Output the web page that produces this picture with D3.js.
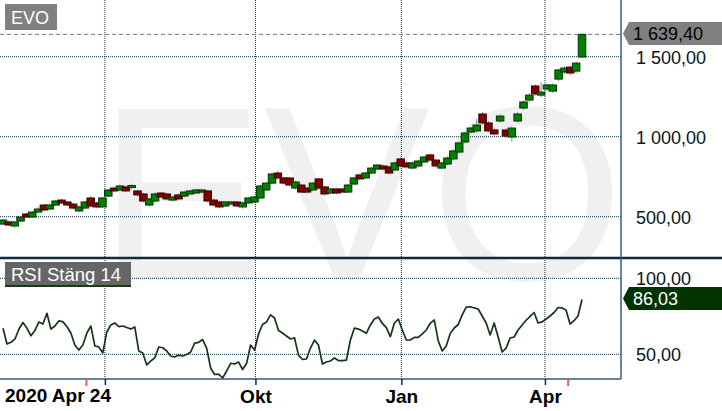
<!DOCTYPE html>
<html lang="sv">
<head>
    <meta charset="UTF-8">
    <title>EVO - kurs och RSI</title>
    <script src="https://d3js.org/d3.v7.min.js"></script>
    <style>
        body { margin: 0; background: #fff; }
        svg { display: block; font-family: "Liberation Sans", Arial, sans-serif; }
    </style>
</head>
<body>
    <svg width="722" height="411"></svg>

    <script>
        // Daily candles sampled about every 2.5 trading days, Apr 2020 - Apr 2021
        const opens = [454,467,442,473,517,498,529,573,548,573,
            604,592,579,536,554,617,586,561,629,679,
            667,686,682,661,642,573,598,648,642,604,
            636,629,642,648,654,661,604,592,567,579,
            592,561,586,592,617,667,710,773,742,742,
            679,698,679,667,736,686,648,673,673,654,
            704,761,742,773,798,817,811,792,861,836,
            804,817,842,886,854,804,829,861,904,967,
            1029,1036,1142,1086,1042,1098,1042,998,1098,1179,
            1229,1317,1260,1298,1285,1360,1404,1435,1410,1498];
        const closes = [479,448,467,498,498,529,548,542,573,598,
            586,573,554,561,592,567,561,617,667,661,
            692,661,695,636,598,611,642,623,611,623,
            611,654,661,667,667,598,573,561,592,592,
            567,586,617,623,692,710,767,742,710,698,
            717,654,654,710,679,642,673,648,654,698,
            742,736,773,804,823,798,773,836,817,811,
            836,848,873,854,817,836,867,911,961,1023,
            1054,1073,1086,1036,1017,1129,1004,1054,1142,1217,
            1260,1267,1279,1323,1323,1417,1429,1398,1460,1639.4];
        const highs = [486,478,472,506,524,536,560,580,581,606,
            612,598,588,570,600,630,594,624,674,688,
            700,694,706,668,650,618,652,655,650,632,
            644,662,668,676,675,668,612,600,600,600,
            600,596,625,632,700,718,775,786,750,750,
            725,706,688,718,745,694,680,682,681,706,
            750,770,781,812,832,826,820,845,870,845,
            845,856,882,895,862,844,878,920,970,1032,
            1063,1110,1155,1098,1052,1140,1055,1066,1155,1228,
            1272,1328,1340,1334,1334,1428,1442,1445,1470,1645];
        const lows = [448,440,430,466,492,492,520,535,540,566,
            578,566,545,528,546,558,552,554,620,652,
            660,654,674,628,590,564,590,615,602,596,
            603,620,634,640,646,590,565,552,560,571,
            558,550,578,584,610,660,702,734,700,690,
            670,646,645,659,670,632,640,640,646,646,
            696,728,734,765,790,790,765,784,808,800,
            795,808,834,845,806,796,820,852,896,958,
            1020,1026,1075,1026,1007,1088,992,970,1088,1168,
            1218,1256,1248,1288,1274,1348,1392,1386,1398,1490];

        // RSI (close, 14), evenly sampled over the same period
        const rsi = [67.1,56.8,57.9,60.1,66.6,70.9,67.1,62.2,65.7,71.3,
            69.9,77.0,66.6,68.6,72.1,71.3,68.3,64.0,56.1,52.8,
            56.1,64.0,68.6,55.5,54.8,50.9,64.7,69.3,70.6,68.2,
            68.6,67.6,66.6,68.0,52.2,50.9,43.0,45.6,47.6,54.8,
            54.3,52.2,48.9,48.2,49.5,48.9,49.9,51.5,57.4,57.9,
            59.7,54.1,41.0,36.7,37.0,34.4,39.0,44.1,43.6,44.9,
            40.0,43.9,56.1,52.8,63.4,69.6,71.3,75.9,73.9,65.7,
            64.0,62.0,60.1,60.9,49.5,46.6,46.9,54.1,59.4,56.1,
            43.6,44.9,45.6,47.6,45.9,45.9,46.2,59.4,67.3,66.6,
            65.3,63.8,69.3,73.2,74.5,70.3,67.5,61.6,70.4,73.2,
            66.0,59.4,59.4,61.1,61.1,63.4,66.0,70.4,72.6,58.8,
            52.2,55.5,63.7,67.3,69.6,75.9,81.1,81.3,80.5,79.8,
            75.2,70.6,62.7,70.6,61.4,51.5,54.1,60.7,61.4,66.0,
            69.3,72.4,74.9,77.5,70.6,71.3,73.2,75.2,77.5,80.8,
            80.5,79.1,69.9,72.1,75.2,86.03];

        // Time axis in trading days from the first date
        const tradingDays = 250;
        const tickDays = [44, 109, 172, 234];
        const tickLabels = ["", "Okt", "Jan", "Apr"];
        const startLabel = "2020 Apr 24";
        const markerDays = [36, 244];
        const priceTicks = [500, 1000, 1500];
        const rsiTicks = [50, 100];

        const width = 722, height = 411;
        const plotRight = 621, priceBottom = 258, rsiBottom = 379;
        const gridColor = "#08304c";

        const svg = d3.select("svg");
        const sv = d3.formatLocale({decimal: ",", thousands: "\u00a0", grouping: [3]});
        const fmt = sv.format(",.2f");

        const x = d3.scaleLinear().domain([0, tradingDays]).range([3, 582]);
        const yP = d3.scaleLinear().domain([500, 1500]).range([216.7, 56.7]);
        const yR = d3.scaleLinear().domain([50, 100]).range([354.3, 278.3]);

        // big watermark behind everything
        svg.append("text")
            .attr("x", 98).attr("y", 280)
            .attr("font-size", 249)
            .attr("fill", "#f0f0f0")
            .text("EVO");

        // grid: vertical dotted lines at the date ticks
        svg.append("g").selectAll("line")
            .data(tickDays).enter().append("line")
            .attr("x1", d => x(d)).attr("x2", d => x(d))
            .attr("y1", 0).attr("y2", rsiBottom)
            .attr("stroke", gridColor).attr("stroke-dasharray", "1,1");

        // horizontal grid in both panels
        svg.append("g").selectAll("line")
            .data(priceTicks.map(yP).concat(rsiTicks.map(yR)))
            .enter().append("line")
            .attr("x1", 0).attr("x2", plotRight)
            .attr("y1", d => d).attr("y2", d => d)
            .attr("stroke", gridColor).attr("stroke-dasharray", "1,1");

        const last = closes[closes.length - 1];
        const lastRsi = rsi[rsi.length - 1];

        // dashed line at last price
        svg.append("line")
            .attr("x1", 0).attr("x2", plotRight)
            .attr("y1", yP(last)).attr("y2", yP(last))
            .attr("stroke", "#7a7a7a").attr("stroke-dasharray", "4,3");

        // candles
        const candles = opens.map((o, i) => ({
            day: i * tradingDays / (opens.length - 1),
            o: o, c: closes[i], h: highs[i], l: lows[i]
        }));
        const cw = 7.5;
        const cg = svg.append("g");
        candles.forEach(d => {
            const up = d.c >= d.o;
            const fill = up ? "#008000" : "#800000";
            cg.append("line")
                .attr("x1", x(d.day)).attr("x2", x(d.day))
                .attr("y1", yP(d.h)).attr("y2", yP(d.l))
                .attr("stroke", "#8a8a8a");
            cg.append("rect")
                .attr("x", x(d.day) - cw / 2)
                .attr("y", yP(Math.max(d.o, d.c)))
                .attr("width", cw)
                .attr("height", Math.max(1, Math.abs(yP(d.o) - yP(d.c))))
                .attr("fill", fill)
                .attr("stroke", up ? "#003300" : "#3a0000");
        });

        // RSI line
        const rsiLine = d3.line()
            .x((d, i) => x(i * tradingDays / (rsi.length - 1)))
            .y(d => yR(d));
        svg.append("path")
            .datum(rsi)
            .attr("d", rsiLine)
            .attr("fill", "none")
            .attr("stroke", "#163516")
            .attr("stroke-width", 1.7)
            .attr("stroke-linejoin", "round");

        // frame
        svg.append("line")
            .attr("x1", 0).attr("x2", width)
            .attr("y1", priceBottom).attr("y2", priceBottom)
            .attr("stroke", "#0d2b3e").attr("stroke-width", 2.5);
        svg.append("line")
            .attr("x1", plotRight).attr("x2", plotRight)
            .attr("y1", 0).attr("y2", rsiBottom)
            .attr("stroke", "#3c5a78").attr("stroke-width", 1.5);
        svg.append("line")
            .attr("x1", 0).attr("x2", plotRight)
            .attr("y1", rsiBottom).attr("y2", rsiBottom)
            .attr("stroke", "#3c5a78").attr("stroke-width", 1.5);

        // price and RSI axes on the right
        [[yP, priceTicks], [yR, rsiTicks]].forEach(([s, t]) => {
            const g = svg.append("g")
                .attr("transform", `translate(${plotRight},0)`)
                .call(d3.axisRight(s).tickValues(t).tickFormat(fmt).tickSize(0).tickPadding(15));
            g.select(".domain").remove();
            g.selectAll("text")
                .attr("font-family", "Liberation Sans, Arial, sans-serif")
                .attr("font-size", 18)
                .attr("fill", "#0a1420")
                .attr("dy", "0.36em");
        });

        // time axis
        const xa = svg.append("g")
            .attr("transform", `translate(0,${rsiBottom})`)
            .call(d3.axisBottom(x).tickValues(tickDays)
                .tickFormat((d, i) => tickLabels[i]).tickSize(6).tickPadding(5));
        xa.select(".domain").remove();
        xa.selectAll("line").attr("stroke", gridColor).attr("stroke-width", 1.5);
        xa.selectAll("text")
            .attr("font-family", "Liberation Sans, Arial, sans-serif")
            .attr("font-size", 19).attr("font-weight", "bold").attr("fill", "#000");
        svg.append("text")
            .attr("x", 5).attr("y", 402)
            .attr("font-size", 19).attr("font-weight", "bold")
            .text(startLabel);
        svg.append("g").selectAll("line")
            .data(markerDays).enter().append("line")
            .attr("x1", d => x(d)).attr("x2", d => x(d))
            .attr("y1", rsiBottom + 1).attr("y2", rsiBottom + 7)
            .attr("stroke", "#ff5a5a").attr("stroke-width", 2);

        // value tags with a left arrow
        function tag(yc, fill, color, label) {
            const h = 23, tip = 623;
            svg.append("path")
                .attr("d", `M${tip},${yc} L${tip + 6},${yc - h / 2} H${width} V${yc + h / 2} H${tip + 6} Z`)
                .attr("fill", fill);
            svg.append("text")
                .attr("x", 633).attr("y", yc).attr("dy", "0.36em")
                .attr("font-size", 18).attr("fill", color)
                .text(label);
        }
        tag(yP(last) - 1, "#808080", "#000", fmt(last));
        tag(yR(lastRsi) - 1, "#003300", "#fff", fmt(lastRsi));

        // panel titles
        svg.append("rect").attr("x", 5).attr("y", 4).attr("width", 52).attr("height", 26).attr("fill", "#808080");
        svg.append("text").attr("x", 11).attr("y", 23.5).attr("font-size", 18).attr("fill", "#fff").text("EVO");
        svg.append("rect").attr("x", 5).attr("y", 262).attr("width", 126).attr("height", 25).attr("fill", "#666");
        svg.append("rect").attr("x", 5).attr("y", 285).attr("width", 126).attr("height", 2).attr("fill", "#1a3a1a");
        svg.append("text").attr("x", 11).attr("y", 280.5).attr("font-size", 18.5).attr("fill", "#fff").text("RSI Stäng 14");
    </script>
</body>
</html>
